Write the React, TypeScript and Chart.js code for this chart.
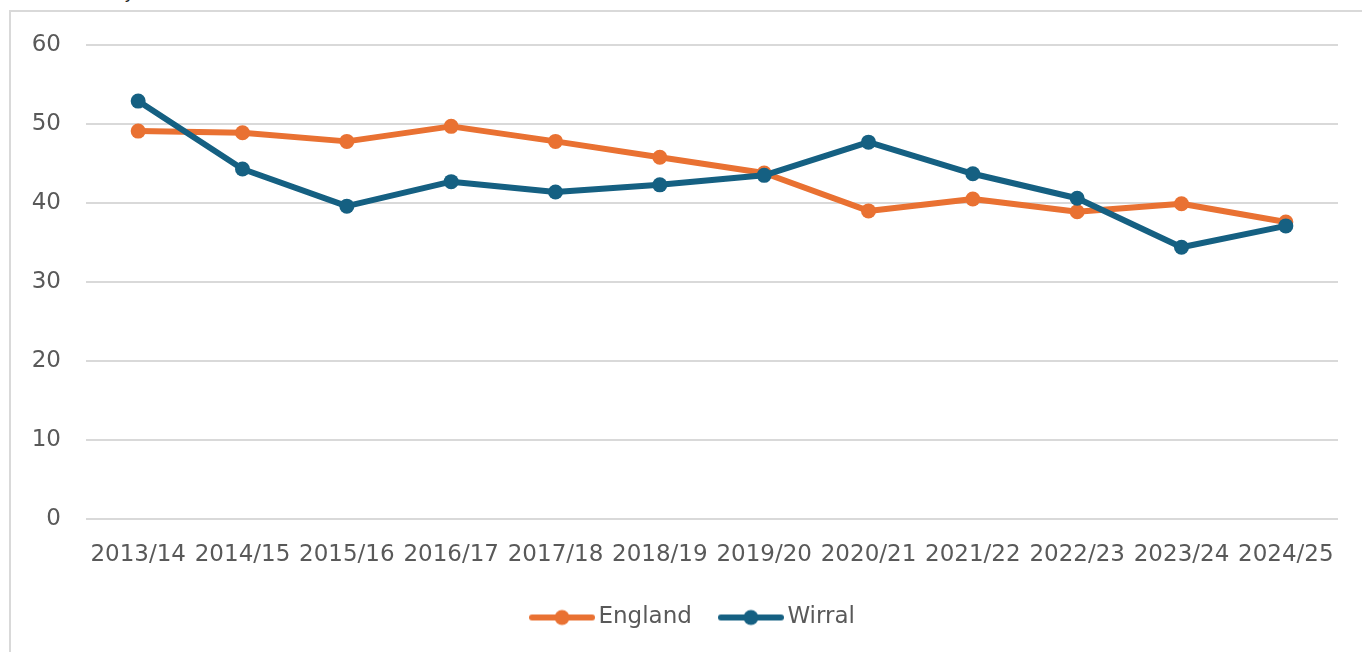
import React, { useEffect, useRef } from "react";
import { Chart, registerables } from "chart.js";

Chart.register(...registerables);

const categories = ["2013/14", "2014/15", "2015/16", "2016/17", "2017/18", "2018/19", "2019/20", "2020/21", "2021/22", "2022/23", "2023/24", "2024/25"];
const englandValues = [49.1, 48.9, 47.8, 49.7, 47.8, 45.8, 43.8, 39.0, 40.5, 38.9, 39.9, 37.6];
const wirralValues = [52.9, 44.3, 39.6, 42.7, 41.4, 42.3, 43.5, 47.7, 43.7, 40.6, 34.4, 37.1];
const yTicks = [0, 10, 20, 30, 40, 50, 60];

const ORANGE = "#E97132";
const BLUE = "#156082";
const TEXT = "#595959";
const GRID = "#d9d9d9";
const FONT = "'DejaVu Sans', sans-serif";
const FS = 23;

function legendMarker(color: string): HTMLCanvasElement {
  const c = document.createElement("canvas");
  c.width = 66;
  c.height = 18;
  const ctx = c.getContext("2d")!;
  ctx.strokeStyle = color;
  ctx.lineWidth = 6;
  ctx.lineCap = "round";
  ctx.beginPath();
  ctx.moveTo(3, 9);
  ctx.lineTo(63, 9);
  ctx.stroke();
  ctx.fillStyle = color;
  ctx.beginPath();
  ctx.arc(33, 9, 7.5, 0, Math.PI * 2);
  ctx.fill();
  return c;
}

const shiftLegend = {
  id: "shiftLegend",
  afterLayout(chart: any) {
    const l = chart.legend;
    if (l) {
      l.left += 27;
      l.right += 27;
    }
  },
};

export default function App() {
  const ref = useRef<HTMLCanvasElement | null>(null);

  useEffect(() => {
    if (!ref.current) return;
    const markers = [legendMarker(ORANGE), legendMarker(BLUE)];
    const chart = new Chart(ref.current, {
      type: "line",
      data: {
        labels: categories,
        datasets: [
          {
            label: "England",
            data: englandValues,
            borderColor: ORANGE,
            backgroundColor: ORANGE,
            pointBackgroundColor: ORANGE,
            pointBorderWidth: 0,
            pointRadius: 7.5,
            borderWidth: 6,
            borderCapStyle: "round",
            borderJoinStyle: "round",
            tension: 0,
            order: 1,
          },
          {
            label: "Wirral",
            data: wirralValues,
            borderColor: BLUE,
            backgroundColor: BLUE,
            pointBackgroundColor: BLUE,
            pointBorderWidth: 0,
            pointRadius: 7.5,
            borderWidth: 6,
            borderCapStyle: "round",
            borderJoinStyle: "round",
            tension: 0,
            order: 0,
          },
        ],
      },
      plugins: [shiftLegend],
      options: {
        animation: false,
        responsive: false,
        maintainAspectRatio: false,
        layout: { padding: { left: 0, right: 24, top: 45, bottom: 13 } },
        plugins: {
          tooltip: { enabled: false },
          legend: {
            display: true,
            position: "bottom",
            labels: {
              usePointStyle: true,
              pointStyleWidth: 50,
              padding: 34,
              color: TEXT,
              font: { family: FONT, size: FS },
              sort: (a: any, b: any) => a.datasetIndex - b.datasetIndex,
              generateLabels: (chart: any) => {
                const items = Chart.defaults.plugins.legend.labels.generateLabels(chart);
                items.forEach((it: any) => {
                  it.pointStyle = markers[it.datasetIndex];
                });
                return items;
              },
            },
          },
        },
        scales: {
          x: {
            offset: true,
            afterFit: (scale: any) => {
              scale.height = 53;
            },
            grid: { display: false, drawTicks: false },
            border: { display: false },
            ticks: {
              color: TEXT,
              font: { family: FONT, size: FS },
              padding: 22,
              maxRotation: 0,
              autoSkip: false,
            },
          },
          y: {
            min: 0,
            max: 60,
            afterFit: (scale: any) => {
              scale.width = 86;
            },
            afterBuildTicks: (scale: any) => {
              scale.ticks = yTicks.map((v) => ({ value: v }));
            },
            grid: { color: GRID, lineWidth: 2, drawTicks: false },
            border: { display: false },
            ticks: {
              color: TEXT,
              font: { family: FONT, size: FS },
              padding: 25,
            },
          },
        },
      },
    });
    return () => chart.destroy();
  }, []);

  return (
    <div style={{ position: "absolute", left: 0, top: 0, width: 1362, height: 652, overflow: "hidden", background: "#fff" }}>
      <div
        style={{
          position: "absolute",
          left: 125,
          top: -18,
          fontFamily: "'Liberation Sans', sans-serif",
          fontSize: 18,
          color: "#222",
        }}
      >
        y
      </div>
      <div
        style={{
          position: "absolute",
          left: 9,
          top: 10,
          width: 1353,
          height: 642,
          borderLeft: `2px solid ${GRID}`,
          borderTop: `2px solid ${GRID}`,
          boxSizing: "border-box",
        }}
      />
      <canvas ref={ref} width={1362} height={652} style={{ position: "absolute", left: 0, top: 0 }} />
    </div>
  );
}
